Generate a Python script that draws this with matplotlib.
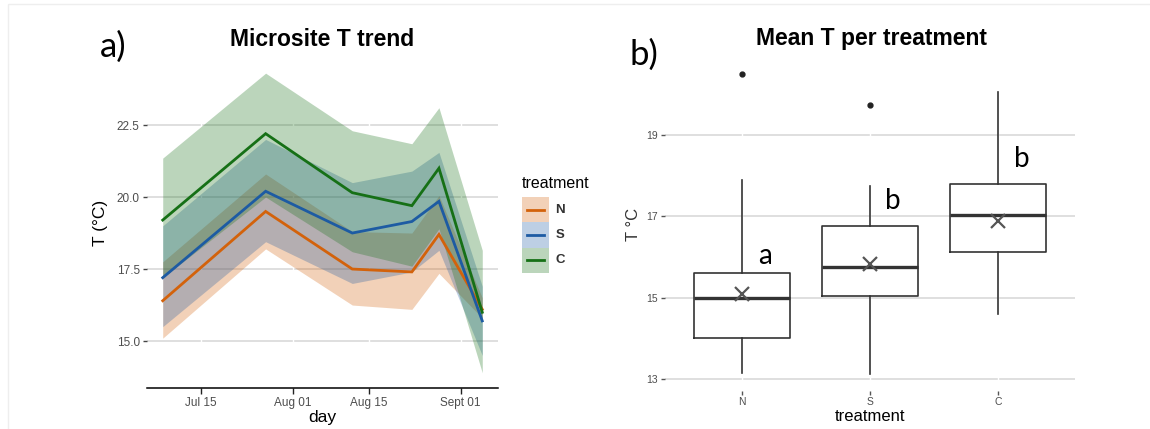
import matplotlib.pyplot as plt
from matplotlib.patches import Rectangle
import numpy as np
import datetime as dt

plt.rcParams['font.family'] = ['Liberation Sans', 'DejaVu Sans']

# ---- panel a: daily trend per treatment (mean + ribbon) ----
days = ['2019-07-08', '2019-07-27', '2019-08-12', '2019-08-23', '2019-08-28', '2019-09-05']
n_mean = [16.4, 19.5, 17.5, 17.4, 18.7, 16.1]
n_lo = [15.1, 18.2, 16.25, 16.1, 17.35, 15.8]
n_hi = [17.75, 20.8, 18.8, 18.75, 20.05, 16.5]
s_mean = [17.2, 20.2, 18.75, 19.15, 19.85, 15.7]
s_lo = [15.5, 18.45, 17.0, 17.4, 18.15, 14.5]
s_hi = [19.0, 22.0, 20.5, 20.9, 21.55, 16.9]
c_mean = [19.2, 22.2, 20.15, 19.7, 21.0, 16.0]
c_lo = [17.2, 20.0, 18.1, 17.6, 18.9, 13.9]
c_hi = [21.35, 24.3, 22.3, 21.85, 23.1, 18.15]
tick_days = ['2019-07-15', '2019-08-01', '2019-08-15', '2019-09-01']
tick_labels = ['Jul 15', 'Aug 01', 'Aug 15', 'Sept 01']
y_ticks_a = [15.0, 17.5, 20.0, 22.5]

# ---- panel b: boxplot stats per treatment ----
treat = ['N', 'S', 'C']
q1 = [14.0, 15.03, 16.12]
med = [15.0, 15.76, 17.02]
q3 = [15.6, 16.75, 17.79]
whis_lo = [13.16, 13.12, 14.59]
whis_hi = [17.88, 17.74, 20.05]
means = [15.1, 15.82, 16.88]
outliers = [[20.48], [19.72], []]
letters = ['a', 'b', 'b']
letter_y = [15.82, 17.17, 18.2]
y_ticks_b = [13, 15, 17, 19]

cols = {'N': '#D3620B', 'S': '#1D5BA3', 'C': '#167016'}
tick_col = '#4d4d4d'
grid_col = '#d6d6d6'

W, H = 1150, 429
fig = plt.figure(figsize=(W / 100, H / 100), dpi=100)

def fx(px):
    return px / W

def fy(py):
    return 1 - py / H

# faint frame of the original image
fig.patches.append(Rectangle((fx(8), -0.1), 1.2, fy(4) + 0.1, transform=fig.transFigure,
                             fill=False, edgecolor='#eeeeee', lw=1))

# ================= panel a =================
ax1 = fig.add_axes([fx(146.7), fy(388.3), fx(498.3 - 146.7), (388.3 - 57.9) / H])
x = np.array(days, dtype='datetime64[D]').astype(dt.datetime)
ribbons = [('N', n_lo, n_hi, n_mean), ('S', s_lo, s_hi, s_mean), ('C', c_lo, c_hi, c_mean)]
for k, lo, hi, m in ribbons:
    ax1.fill_between(x, lo, hi, color=cols[k], alpha=0.29, lw=0, zorder=1)
for k, lo, hi, m in ribbons:
    ax1.plot(x, m, color=cols[k], lw=2.0, zorder=3, solid_joinstyle='miter')

ax1.set_xlim(dt.datetime(2019, 7, 5, 1), dt.datetime(2019, 9, 7, 23))
ax1.set_ylim(13.36, 24.83)
tx = np.array(tick_days, dtype='datetime64[D]').astype(dt.datetime)
ax1.set_xticks(tx)
ax1.set_xticklabels(tick_labels)
ax1.set_yticks(y_ticks_a)
ax1.set_yticklabels(['%.1f' % v for v in y_ticks_a])
ax1.set_axisbelow(True)
ax1.grid(axis='y', color=grid_col, lw=1.1)
for t in tx:
    ax1.axvline(t, color='white', lw=1.0, zorder=0.6)
for s in ['top', 'right', 'left']:
    ax1.spines[s].set_visible(False)
ax1.spines['bottom'].set_linewidth(1.1)
ax1.tick_params(axis='x', length=4, width=1, color='#222222', labelsize=8.5,
                labelcolor=tick_col, pad=2)
ax1.tick_params(axis='y', length=3, width=1, color='#444444', labelsize=8.5,
                labelcolor=tick_col, pad=2)
ax1.set_xlabel('day', fontsize=12.5, labelpad=1)
ax1.set_ylabel('T (°C)', fontsize=12.5, labelpad=6)

# legend keys (ribbon fill + line), stacked like ggplot
axl = fig.add_axes([fx(521.7), fy(272.7), fx(549.3 - 521.7), (272.7 - 197.3) / H])
axl.set_xlim(0, 1)
axl.set_ylim(len(treat), 0)
for i, k in enumerate(treat):
    axl.axhspan(i, i + 1, color=cols[k], alpha=0.29, lw=0)
    axl.plot([0.18, 0.82], [i + 0.5, i + 0.5], color=cols[k], lw=2.0)
    axl.text(1.22, i + 0.5, k, ha='left', va='center', fontsize=9.5,
             fontweight='bold', color='#333333')
axl.axis('off')
fig.text(fx(522), fy(183), 'treatment', ha='left', va='center', fontsize=11.5)

fig.text(fx(322.5), fy(46.5), 'Microsite T trend', ha='center', va='baseline',
         fontsize=16.5, fontweight='bold')
fig.text(fx(100), fy(57), 'a)', ha='left', va='baseline', fontsize=25, family=['Lato', 'DejaVu Sans'])

# ================= panel b =================
ax2 = fig.add_axes([fx(665), fy(390.5), fx(1075.3 - 665), (390.5 - 59.2) / H])
stats = []
for i in range(len(treat)):
    stats.append({'label': treat[i], 'q1': q1[i], 'med': med[i], 'q3': q3[i],
                  'whislo': whis_lo[i], 'whishi': whis_hi[i], 'mean': means[i],
                  'fliers': outliers[i]})
ax2.bxp(stats, positions=[1, 2, 3], widths=0.75, showcaps=False, showmeans=True,
        boxprops=dict(color='#333333', lw=1.2),
        whiskerprops=dict(color='#333333', lw=1.2),
        medianprops=dict(color='#333333', lw=2.4),
        meanprops=dict(marker='x', markeredgecolor='#555555', markersize=10, mew=1.6),
        flierprops=dict(marker='o', markerfacecolor='#222222', markeredgecolor='#222222',
                        markersize=3.5),
        zorder=2)
ax2.set_xlim(0.4, 3.6)
ax2.set_ylim(12.72, 20.85)
ax2.set_yticks(y_ticks_b)
ax2.set_xticks([1, 2, 3])
ax2.set_xticklabels(treat)
ax2.set_axisbelow(True)
ax2.grid(axis='y', color=grid_col, lw=1.1)
for p in [1, 2, 3]:
    ax2.axvline(p, color='white', lw=1.0, zorder=0.6)
for s in ax2.spines.values():
    s.set_visible(False)
ax2.tick_params(axis='both', length=3, width=1, color='#555555', labelsize=7.5,
                labelcolor=tick_col, pad=2)
ax2.set_xlabel('treatment', fontsize=12, labelpad=1)
ax2.set_ylabel('T °C', fontsize=12, labelpad=4, color='#333333')
for i in range(len(treat)):
    ax2.text(i + 1.18, letter_y[i], letters[i], ha='center', va='baseline', fontsize=20,
             family=['Lato', 'DejaVu Sans'])

fig.text(fx(871), fy(45), 'Mean T per treatment', ha='center', va='baseline',
         fontsize=16.5, fontweight='bold')
fig.text(fx(630), fy(65), 'b)', ha='left', va='baseline', fontsize=25, family=['Lato', 'DejaVu Sans'])

fig.savefig('out.png', dpi=100)
